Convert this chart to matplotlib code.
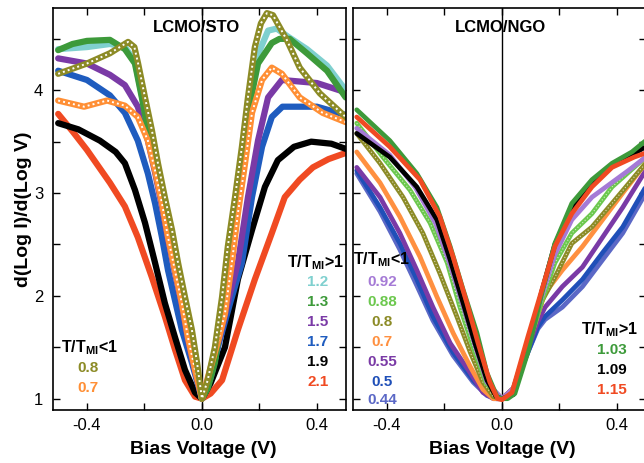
import matplotlib
matplotlib.use("Agg")
import matplotlib.pyplot as plt
from matplotlib.ticker import MultipleLocator, FormatStrFormatter

plt.rcParams['font.family'] = ['Liberation Sans', 'DejaVu Sans']
plt.rcParams['mathtext.fontset'] = 'custom'
plt.rcParams['mathtext.bf'] = 'Liberation Sans:bold'
plt.rcParams['mathtext.rm'] = 'Liberation Sans'
plt.rcParams['axes.unicode_minus'] = False
plt.rcParams['lines.solid_joinstyle'] = 'round'
plt.rcParams['lines.dash_joinstyle'] = 'round'

# ---- LCMO/STO (left panel) ----
sto_labels = ['1.2', '1.3', '1.5', '1.7', '1.9', '2.1', '0.8', '0.7']
sto_colors = ['#7fd0cf', '#3d9a3a', '#7a3aa6', '#1f5cbf', '#000000', '#f04a22', '#8c8b26', '#ff8f35']

sto_v_12 = [-0.5, -0.4, -0.32, -0.268, -0.233, -0.209, -0.188, -0.163, -0.139, -0.118, -0.094, -0.07, -0.049, -0.024, 0.0,
            0.02, 0.045, 0.07, 0.09, 0.115, 0.139, 0.16, 0.195, 0.23, 0.26, 0.3, 0.365, 0.435, 0.5]
sto_y_12 = [4.40, 4.42, 4.45, 4.42, 4.28, 3.95, 3.63, 3.31, 2.98, 2.66, 2.34, 2.01, 1.69, 1.36, 1.0,
            1.12, 1.38, 1.87, 2.36, 2.85, 3.34, 3.82, 4.35, 4.58, 4.60, 4.52, 4.40, 4.24, 4.0]

sto_v_13 = [-0.5, -0.45, -0.4, -0.32, -0.268, -0.233, -0.209, -0.188, -0.163, -0.139, -0.118, -0.094, -0.07, -0.049, -0.024, 0.0,
            0.02, 0.045, 0.07, 0.09, 0.115, 0.139, 0.16, 0.195, 0.243, 0.27, 0.305, 0.365, 0.435, 0.5]
sto_y_13 = [4.39, 4.45, 4.48, 4.49, 4.40, 4.26, 3.93, 3.61, 3.29, 2.96, 2.64, 2.32, 1.99, 1.67, 1.35, 1.0,
            1.10, 1.35, 1.83, 2.32, 2.80, 3.29, 3.78, 4.26, 4.46, 4.50, 4.50, 4.36, 4.19, 3.93]

sto_v_15 = [-0.5, -0.4, -0.32, -0.268, -0.223, -0.188, -0.163, -0.139, -0.118, -0.094, -0.07, -0.049, -0.024, 0.0,
            0.03, 0.07, 0.1, 0.125, 0.16, 0.195, 0.23, 0.278, 0.4, 0.5]
sto_y_15 = [4.31, 4.26, 4.15, 4.05, 3.84, 3.51, 3.20, 2.87, 2.55, 2.23, 1.91, 1.58, 1.27, 1.0,
            1.25, 1.70, 2.05, 2.32, 2.96, 3.51, 3.93, 4.10, 4.07, 3.98]

sto_v_17 = [-0.5, -0.4, -0.32, -0.268, -0.223, -0.188, -0.163, -0.139, -0.118, -0.094, -0.07, -0.035, 0.0,
            0.03, 0.06, 0.1, 0.139, 0.174, 0.209, 0.243, 0.28, 0.4, 0.5]
sto_y_17 = [4.19, 4.10, 3.95, 3.78, 3.51, 3.19, 2.90, 2.57, 2.25, 1.96, 1.67, 1.35, 1.0,
            1.20, 1.55, 1.95, 2.32, 2.96, 3.45, 3.74, 3.84, 3.84, 3.76]

sto_v_19 = [-0.5, -0.43, -0.355, -0.3, -0.268, -0.233, -0.198, -0.163, -0.129, -0.094, -0.059, -0.024, 0.0,
            0.03, 0.08, 0.125, 0.174, 0.219, 0.264, 0.32, 0.38, 0.45, 0.5]
sto_y_19 = [3.68, 3.62, 3.51, 3.40, 3.29, 3.03, 2.71, 2.32, 1.93, 1.60, 1.28, 1.06, 1.0,
            1.15, 1.50, 2.16, 2.64, 3.06, 3.32, 3.45, 3.50, 3.48, 3.43]

sto_v_21 = [-0.5, -0.45, -0.4, -0.32, -0.268, -0.223, -0.174, -0.129, -0.094, -0.059, -0.024, 0.0,
            0.03, 0.07, 0.125, 0.184, 0.243, 0.288, 0.34, 0.386, 0.44, 0.5]
sto_y_21 = [3.77, 3.60, 3.42, 3.10, 2.87, 2.57, 2.18, 1.80, 1.48, 1.18, 1.02, 1.0,
            1.05, 1.18, 1.67, 2.16, 2.61, 2.96, 3.13, 3.25, 3.33, 3.39]

sto_v_08 = [-0.5, -0.4, -0.32, -0.257, -0.235, -0.222, -0.198, -0.174, -0.153, -0.129, -0.104, -0.083, -0.059, -0.035, -0.017, 0.0,
            0.02, 0.045, 0.07, 0.09, 0.115, 0.139, 0.16, 0.184, 0.205, 0.226, 0.247, 0.295, 0.34, 0.41, 0.5]
sto_y_08 = [4.16, 4.26, 4.36, 4.47, 4.42, 4.26, 3.93, 3.61, 3.29, 2.96, 2.64, 2.32, 1.99, 1.67, 1.35, 1.0,
            1.18, 1.50, 1.99, 2.48, 2.96, 3.45, 3.93, 4.42, 4.65, 4.75, 4.73, 4.49, 4.22, 3.97, 3.74]

sto_v_07 = [-0.5, -0.41, -0.33, -0.268, -0.223, -0.188, -0.163, -0.139, -0.118, -0.094, -0.07, -0.049, -0.024, 0.0,
            0.03, 0.06, 0.08, 0.104, 0.125, 0.15, 0.174, 0.209, 0.243, 0.278, 0.34, 0.42, 0.5]
sto_y_07 = [3.90, 3.84, 3.90, 3.85, 3.74, 3.51, 3.22, 2.90, 2.57, 2.25, 1.93, 1.60, 1.28, 1.0,
            1.30, 1.60, 1.83, 2.32, 2.80, 3.29, 3.78, 4.10, 4.22, 4.16, 3.93, 3.78, 3.69]

# ---- LCMO/NGO (right panel) ----
ngo_low_labels = ['0.92', '0.88', '0.8', '0.7', '0.55', '0.5', '0.44']
ngo_low_colors = ['#a57ad6', '#6cc84e', '#8c8b26', '#ff9040', '#7a3aa6', '#1f4fb8', '#5b68c6']
ngo_high_labels = ['1.03', '1.09', '1.15']
ngo_high_colors = ['#3d9a3a', '#000000', '#f04a22']

ngo_v_092 = [-0.505, -0.39, -0.3, -0.23, -0.18, -0.135, -0.094, -0.052, 0.0, 0.04, 0.09, 0.139, 0.184, 0.243, 0.313, 0.44, 0.5]
ngo_y_092 = [3.63, 3.37, 3.05, 2.70, 2.30, 1.90, 1.52, 1.16, 1.0, 1.10, 1.55, 2.00, 2.40, 2.74, 2.96, 3.22, 3.35]

ngo_v_088 = [-0.505, -0.414, -0.32, -0.25, -0.19, -0.146, -0.10, -0.055, 0.0, 0.04, 0.09, 0.139, 0.184, 0.243, 0.313, 0.383, 0.5]
ngo_y_088 = [3.68, 3.35, 3.03, 2.71, 2.32, 1.89, 1.50, 1.15, 1.0, 1.08, 1.50, 1.95, 2.32, 2.61, 2.80, 3.06, 3.35]

ngo_v_08 = [-0.505, -0.424, -0.344, -0.275, -0.216, -0.157, -0.11, -0.066, -0.03, 0.0, 0.04, 0.09, 0.139, 0.184, 0.243, 0.313, 0.383, 0.5]
ngo_y_08 = [3.58, 3.29, 2.96, 2.61, 2.22, 1.80, 1.45, 1.16, 1.02, 1.0, 1.10, 1.55, 1.95, 2.18, 2.51, 2.67, 2.90, 3.29]

ngo_v_07 = [-0.505, -0.424, -0.355, -0.285, -0.226, -0.17, -0.11, -0.066, -0.03, 0.0, 0.04, 0.09, 0.15, 0.21, 0.28, 0.35, 0.42, 0.5]
ngo_y_07 = [3.40, 3.10, 2.77, 2.38, 1.99, 1.64, 1.31, 1.09, 1.0, 1.0, 1.10, 1.52, 2.03, 2.25, 2.48, 2.74, 3.00, 3.29]

ngo_v_055 = [-0.505, -0.424, -0.355, -0.296, -0.24, -0.18, -0.11, -0.066, -0.03, 0.0, 0.04, 0.09, 0.125, 0.15, 0.21, 0.28, 0.35, 0.42, 0.5]
ngo_y_055 = [3.25, 2.96, 2.61, 2.25, 1.89, 1.54, 1.25, 1.06, 1.0, 1.0, 1.10, 1.48, 1.75, 1.89, 2.09, 2.28, 2.57, 2.86, 3.22]

ngo_v_05 = [-0.505, -0.424, -0.355, -0.296, -0.24, -0.17, -0.10, -0.052, -0.02, 0.0, 0.04, 0.09, 0.125, 0.15, 0.21, 0.28, 0.35, 0.42, 0.5]
ngo_y_05 = [3.22, 2.86, 2.51, 2.16, 1.80, 1.45, 1.18, 1.04, 1.0, 1.0, 1.10, 1.45, 1.70, 1.80, 1.96, 2.16, 2.42, 2.67, 3.06]

ngo_v_044 = [-0.505, -0.424, -0.355, -0.296, -0.24, -0.17, -0.10, -0.052, -0.02, 0.0, 0.04, 0.09, 0.125, 0.15, 0.21, 0.28, 0.35, 0.42, 0.5]
ngo_y_044 = [3.19, 2.82, 2.45, 2.10, 1.76, 1.42, 1.16, 1.03, 1.0, 1.0, 1.10, 1.45, 1.68, 1.77, 1.89, 2.09, 2.35, 2.61, 3.00]

ngo_v_103 = [-0.505, -0.39, -0.296, -0.226, -0.18, -0.135, -0.087, -0.052, -0.017, 0.0, 0.02, 0.045, 0.09, 0.139, 0.184, 0.243, 0.313, 0.383, 0.452, 0.5]
ngo_y_103 = [3.81, 3.51, 3.19, 2.86, 2.48, 2.06, 1.64, 1.25, 1.02, 1.0, 1.0, 1.05, 1.45, 2.03, 2.51, 2.90, 3.13, 3.29, 3.40, 3.51]

ngo_v_109 = [-0.505, -0.39, -0.296, -0.226, -0.18, -0.135, -0.094, -0.052, -0.02, 0.0, 0.04, 0.09, 0.139, 0.184, 0.243, 0.313, 0.383, 0.45, 0.5]
ngo_y_109 = [3.58, 3.35, 3.06, 2.74, 2.35, 1.93, 1.54, 1.18, 1.02, 1.0, 1.04, 1.50, 2.05, 2.50, 2.86, 3.10, 3.27, 3.37, 3.45]

ngo_v_115 = [-0.505, -0.39, -0.285, -0.216, -0.17, -0.122, -0.083, -0.042, -0.015, 0.0, 0.035, 0.09, 0.139, 0.184, 0.243, 0.313, 0.383, 0.46, 0.5]
ngo_y_115 = [3.74, 3.45, 3.13, 2.77, 2.38, 1.93, 1.54, 1.16, 1.0, 0.99, 1.06, 1.60, 2.06, 2.48, 2.80, 3.06, 3.25, 3.35, 3.39]

sto_v = [sto_v_12, sto_v_13, sto_v_15, sto_v_17, sto_v_19, sto_v_21, sto_v_08, sto_v_07]
sto_y = [sto_y_12, sto_y_13, sto_y_15, sto_y_17, sto_y_19, sto_y_21, sto_y_08, sto_y_07]
ngo_low_v = [ngo_v_092, ngo_v_088, ngo_v_08, ngo_v_07, ngo_v_055, ngo_v_05, ngo_v_044]
ngo_low_y = [ngo_y_092, ngo_y_088, ngo_y_08, ngo_y_07, ngo_y_055, ngo_y_05, ngo_y_044]
ngo_high_v = [ngo_v_103, ngo_v_109, ngo_v_115]
ngo_high_y = [ngo_y_103, ngo_y_109, ngo_y_115]

W, H = 644, 463
fig = plt.figure(figsize=(W / 100, H / 100), dpi=100)
ax1 = fig.add_axes([53 / W, 53 / H, 293 / W, 402 / H])
ax2 = fig.add_axes([353 / W, 53 / H, 293 / W, 402 / H])

for ax in (ax1, ax2):
    ax.set_xlim(-0.518, 0.501)
    ax.set_ylim(0.89, 4.8)
    ax.axvline(0, color='black', lw=1.0, zorder=1)
    ax.xaxis.set_major_locator(MultipleLocator(0.4))
    ax.xaxis.set_minor_locator(MultipleLocator(0.2))
    ax.yaxis.set_major_locator(MultipleLocator(1))
    ax.yaxis.set_minor_locator(MultipleLocator(0.5))
    ax.xaxis.set_major_formatter(FormatStrFormatter('%.1f'))
    ax.tick_params(which='both', direction='in', top=True, right=True, length=5, width=1)
    ax.tick_params(axis='x', labelsize=12, pad=6)
    ax.tick_params(axis='y', labelsize=12, pad=7)
    for s in ax.spines.values():
        s.set_linewidth(1.2)
ax2.tick_params(axis='y', labelleft=False)

# left panel curves (bottom to top)
order = [5, 4, 3, 2, 0, 1, 7, 6]
for i in order:
    ax1.plot(sto_v[i], sto_y[i], color=sto_colors[i], lw=4.5, solid_capstyle='round', zorder=2)
    if sto_labels[i] in ('0.8', '0.7'):
        ax1.plot(sto_v[i], sto_y[i], color='white', lw=1.4, ls=(0, (1, 1.6)), zorder=2)

# right panel curves
for i in range(len(ngo_low_labels) - 1, -1, -1):
    ax2.plot(ngo_low_v[i], ngo_low_y[i], color=ngo_low_colors[i], lw=3.4, solid_capstyle='round', zorder=2)
    if ngo_low_labels[i] in ('0.8', '0.88'):
        ax2.plot(ngo_low_v[i], ngo_low_y[i], color='white', lw=0.8, ls=(0, (1, 2)), alpha=0.7, zorder=2)
for i in [1, 0, 2]:
    ax2.plot(ngo_high_v[i], ngo_high_y[i], color=ngo_high_colors[i], lw=3.4, solid_capstyle='round', zorder=2)

# titles
ax1.text((196 - 53) / 293, (410 - 28) / 402, 'LCMO/STO', transform=ax1.transAxes,
         ha='center', va='center', fontsize=12, fontweight='bold')
ax2.text((501 - 353) / 293, (410 - 28) / 402, 'LCMO/NGO', transform=ax2.transAxes,
         ha='center', va='center', fontsize=12, fontweight='bold')

hdr_hi = r'T/T$_{\mathbf{MI}}$>1'
hdr_lo = r'T/T$_{\mathbf{MI}}$<1'

# left panel legends
ax1.text(0.896, 0.366, hdr_hi, transform=ax1.transAxes, ha='center', va='center', fontsize=11.5, fontweight='bold')
ys = [0.318, 0.269, 0.219, 0.169, 0.119, 0.070]
for i in range(6):
    ax1.text(0.904, ys[i], sto_labels[i], transform=ax1.transAxes, ha='center', va='center',
             fontsize=11, fontweight='bold', color=sto_colors[i])
ax1.text(0.126, 0.154, hdr_lo, transform=ax1.transAxes, ha='center', va='center', fontsize=11.5, fontweight='bold')
ax1.text(0.119, 0.104, sto_labels[6], transform=ax1.transAxes, ha='center', va='center',
         fontsize=11, fontweight='bold', color=sto_colors[6])
ax1.text(0.119, 0.055, sto_labels[7], transform=ax1.transAxes, ha='center', va='center',
         fontsize=11, fontweight='bold', color=sto_colors[7])

# right panel legends
ax2.text(0.096, 0.373, hdr_lo, transform=ax2.transAxes, ha='center', va='center', fontsize=11.5, fontweight='bold')
ys = [0.318, 0.269, 0.219, 0.169, 0.119, 0.070, 0.025]
for i in range(7):
    ax2.text(0.099, ys[i], ngo_low_labels[i], transform=ax2.transAxes, ha='center', va='center',
             fontsize=11, fontweight='bold', color=ngo_low_colors[i])
ax2.text(0.875, 0.199, hdr_hi, transform=ax2.transAxes, ha='center', va='center', fontsize=11.5, fontweight='bold')
ys = [0.149, 0.100, 0.050]
for i in range(3):
    ax2.text(0.884, ys[i], ngo_high_labels[i], transform=ax2.transAxes, ha='center', va='center',
             fontsize=11, fontweight='bold', color=ngo_high_colors[i])

fig.text(203 / W, 1 - 450 / H, 'Bias Voltage (V)', ha='center', va='center', fontsize=14, fontweight='bold')
fig.text(502 / W, 1 - 450 / H, 'Bias Voltage (V)', ha='center', va='center', fontsize=14, fontweight='bold')
fig.text(24 / W, 1 - 209 / H, 'd(Log I)/d(Log V)', ha='center', va='center', rotation=90,
         fontsize=14, fontweight='bold')

fig.savefig('out.png', dpi=100)
